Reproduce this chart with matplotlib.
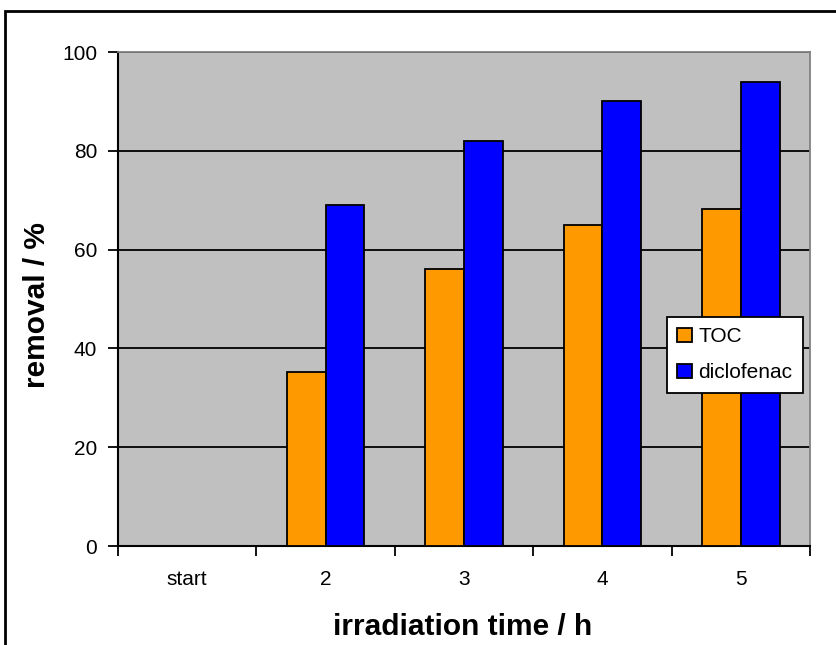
import numpy as np
import matplotlib
matplotlib.use('Agg')
import matplotlib.pyplot as plt
from matplotlib.patches import Rectangle

plt.rcParams['font.family'] = ['Liberation Sans', 'DejaVu Sans']

# data
categories = ['start', '2', '3', '4', '5']
toc = [0, 35.3, 56, 65, 68.2]
diclofenac = [0, 69, 82, 90, 94]

W, H = 836, 645
fig = plt.figure(figsize=(W / 100, H / 100), dpi=100)
ax = fig.add_axes([118 / W, 1 - 546 / H, (810 - 118) / W, (546 - 52) / H])
ax.set_facecolor('#C0C0C0')

x = np.arange(len(categories))
bw = 0.28
ax.bar(x - bw / 2, toc, bw, color='#FF9900', edgecolor='black', linewidth=1.3,
       label='TOC', zorder=3)
ax.bar(x + bw / 2, diclofenac, bw, color='#0000FF', edgecolor='black', linewidth=1.3,
       label='diclofenac', zorder=3)

ax.set_xlim(-0.5, len(categories) - 0.5)
ax.set_ylim(0, 100)
ax.set_yticks(np.arange(0, 101, 20))
ax.yaxis.grid(True, color='black', linewidth=1.3, zorder=1)
ax.set_axisbelow(True)

# category ticks at boundaries, labels at centres
ax.set_xticks(np.arange(-0.5, len(categories), 1.0))
ax.set_xticklabels([])
ax.set_xticks(x, minor=True)
ax.set_xticklabels(categories, minor=True)
ax.tick_params(axis='x', which='minor', length=0, pad=17, labelsize=15)
ax.tick_params(axis='x', which='major', direction='out', length=7, width=1.3)
ax.tick_params(axis='y', direction='out', length=7, width=1.3, labelsize=15, pad=8)

for side in ['top', 'right']:
    ax.spines[side].set_color('#808080')
    ax.spines[side].set_linewidth(1.3)
for side in ['left', 'bottom']:
    ax.spines[side].set_color('black')
    ax.spines[side].set_linewidth(1.5)

fig.text(463 / W, 1 - 627 / H, 'irradiation time / h', ha='center', va='center',
         fontsize=21.5, fontweight='bold')
fig.text(37 / W, 1 - 305 / H, 'removal / %', ha='center', va='center',
         rotation=90, fontsize=21.5, fontweight='bold')

leg = ax.legend(loc='upper left', bbox_to_anchor=(667 / W, 1 - 317 / H),
                bbox_transform=fig.transFigure, fancybox=False, framealpha=1,
                edgecolor='black', fontsize=15, handlelength=0.7, handleheight=0.7,
                handletextpad=0.3, labelspacing=0.8, borderpad=0.5,
                borderaxespad=0)
leg.get_frame().set_linewidth(1.3)

# outer chart border
fig.patches.append(Rectangle((5 / W, -0.1), 1.2, 1 - 11 / H + 0.1,
                             transform=fig.transFigure, fill=False,
                             edgecolor='black', linewidth=2))

fig.savefig('out.png', dpi=100)
